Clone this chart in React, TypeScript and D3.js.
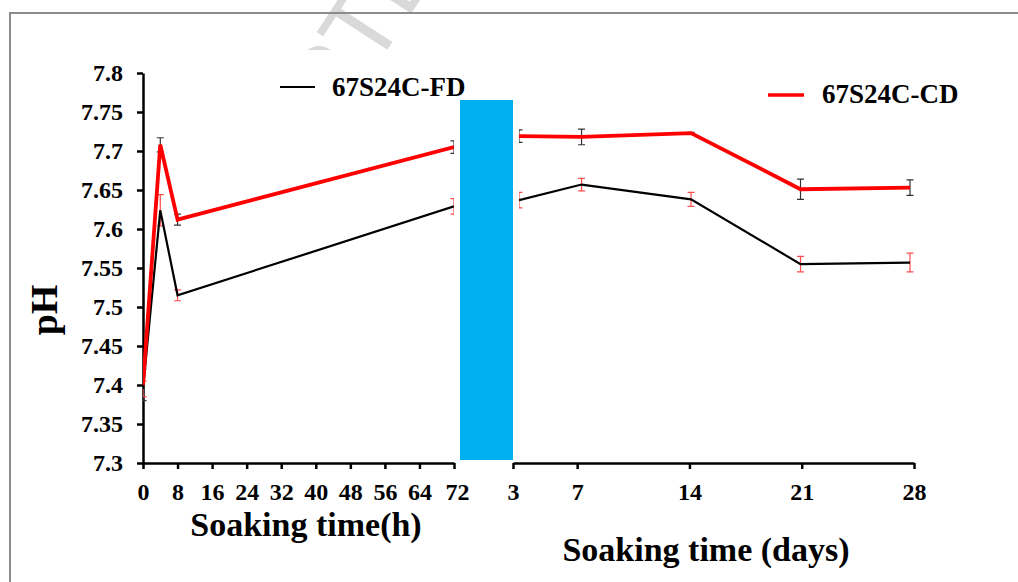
import React, { useEffect, useRef } from 'react'
import * as d3 from 'd3'

// soaking in hours (left panel)
const hours = [0, 4, 8, 72]
const cdHours = [7.4, 7.708, 7.612, 7.705]
const cdHoursErr = [0.02, 0.009, 0.007, 0.008]
const fdHours = [7.395, 7.624, 7.515, 7.629]
const fdHoursErr = [0.01, 0.02, 0.007, 0.01]

// soaking in days (right panel)
const days = [3, 7, 14, 21, 28]
const cdDays = [7.719, 7.718, 7.723, 7.651, 7.653]
const cdDaysErr = [0.008, 0.01, 0.001, 0.013, 0.01]
const fdDays = [7.637, 7.657, 7.638, 7.555, 7.557]
const fdDaysErr = [0.01, 0.008, 0.009, 0.01, 0.012]

const hourTicks = [0, 8, 16, 24, 32, 40, 48, 56, 64, 72]
const dayTicks = [3, 7, 14, 21, 28]
const yTicks = [7.3, 7.35, 7.4, 7.45, 7.5, 7.55, 7.6, 7.65, 7.7, 7.75, 7.8]

const FONT = "'Times New Roman', 'Liberation Serif', serif"
const RED = '#ff0000'

export default function App() {
  const ref = useRef<SVGSVGElement>(null)

  useEffect(() => {
    const svg = d3.select(ref.current)
    svg.selectAll('*').remove()

    const y = d3.scaleLinear().domain([7.3, 7.8]).range([463, 73])
    const xH = d3.scaleLinear().domain([0, 72]).range([143, 454])
    const xDaxis = d3.scaleLinear().domain([3, 28]).range([513, 914])
    const xD = d3.scaleLinear().domain([3, 28]).range([519, 910])

    const defs = svg.append('defs')
    defs.append('clipPath').attr('id', 'wm').append('rect')
      .attr('x', 0).attr('y', 0).attr('width', 1018).attr('height', 50)
    defs.append('clipPath').attr('id', 'clipH').append('rect')
      .attr('x', xH(0)).attr('y', 0).attr('width', xH(72) - xH(0)).attr('height', 582)
    defs.append('clipPath').attr('id', 'clipD').append('rect')
      .attr('x', xD(3)).attr('y', 0).attr('width', 500).attr('height', 582)

    // watermark, only the top strip shows
    svg.append('g').attr('clip-path', 'url(#wm)')
      .append('text')
      .attr('transform', 'translate(390,46) rotate(-57)')
      .attr('text-anchor', 'middle')
      .attr('font-family', "'Liberation Sans', Arial, sans-serif")
      .attr('font-size', 100)
      .attr('fill', '#d9d9d9')
      .text('PTE')

    // frame
    svg.append('path')
      .attr('d', 'M10,582V13H1018')
      .attr('fill', 'none')
      .attr('stroke', '#8c8c8c')
      .attr('stroke-width', 2)

    // y axis
    const yAxis = svg.append('g')
      .attr('transform', `translate(${xH(0)},0)`)
      .call(d3.axisLeft(y).tickValues(yTicks).tickSize(6).tickSizeOuter(0).tickPadding(14)
        .tickFormat(d => String(+(+d).toFixed(2))))
    // x axes
    const xAxisH = svg.append('g')
      .attr('transform', `translate(0,${y(7.3)})`)
      .call(d3.axisBottom(xH).tickValues(hourTicks).tickSize(6).tickSizeOuter(0).tickPadding(14))
    const xAxisD = svg.append('g')
      .attr('transform', `translate(0,${y(7.3)})`)
      .call(d3.axisBottom(xDaxis).tickValues(dayTicks).tickSize(6).tickSizeOuter(0).tickPadding(14))

    ;[yAxis, xAxisH, xAxisD].forEach(g => {
      g.select('.domain').attr('stroke', '#000').attr('stroke-width', 2.5)
      g.selectAll('.tick line').attr('stroke', '#000').attr('stroke-width', 2.5)
      g.selectAll('.tick text')
        .attr('font-family', FONT)
        .attr('font-weight', 'bold')
        .attr('font-size', 24)
        .attr('fill', '#000')
    })
    xAxisH.selectAll('.tick:last-of-type text').attr('dx', 3)

    const drawPanel = (xs: number[], x: (v: number) => number, cd: number[], cdErr: number[],
      fd: number[], fdErr: number[], clip: string) => {
      const g = svg.append('g').attr('clip-path', `url(#${clip})`)
      const cap = 3.5
      const bars = (vals: number[], errs: number[], col: string) => {
        xs.forEach((xv, i) => {
          const px = x(xv)
          const t = y(vals[i] + errs[i])
          const b = y(vals[i] - errs[i])
          g.append('path')
            .attr('d', `M${px},${t}V${b}M${px - cap},${t}H${px + cap}M${px - cap},${b}H${px + cap}`)
            .attr('stroke', col)
            .attr('stroke-width', 1.2)
            .attr('fill', 'none')
        })
      }
      // error bars swap colours with their lines, as in the original
      bars(cd, cdErr, '#333')
      bars(fd, fdErr, '#ff4d4d')
      const line = d3.line<number>().x((_, i) => x(xs[i])).y(d => y(d))
      g.append('path').attr('d', line(fd)).attr('fill', 'none')
        .attr('stroke', '#000').attr('stroke-width', 2.2)
      g.append('path').attr('d', line(cd)).attr('fill', 'none')
        .attr('stroke', RED).attr('stroke-width', 3.8)
    }
    drawPanel(hours, xH, cdHours, cdHoursErr, fdHours, fdHoursErr, 'clipH')
    drawPanel(days, xD, cdDays, cdDaysErr, fdDays, fdDaysErr, 'clipD')

    // blue separator between the two time scales
    svg.append('rect')
      .attr('x', 460).attr('y', 100)
      .attr('width', 53).attr('height', 360)
      .attr('fill', '#00b0f0')

    // legend
    svg.append('line').attr('x1', 280).attr('x2', 315).attr('y1', 87).attr('y2', 87)
      .attr('stroke', '#000').attr('stroke-width', 2)
    svg.append('text').attr('x', 332).attr('y', 96)
      .attr('font-family', FONT).attr('font-weight', 'bold').attr('font-size', 27)
      .text('67S24C-FD')
    svg.append('line').attr('x1', 768).attr('x2', 804).attr('y1', 95).attr('y2', 95)
      .attr('stroke', RED).attr('stroke-width', 3.5)
    svg.append('text').attr('x', 822).attr('y', 103)
      .attr('font-family', FONT).attr('font-weight', 'bold').attr('font-size', 27)
      .text('67S24C-CD')

    // axis titles
    svg.append('text').attr('x', 306).attr('y', 536)
      .attr('text-anchor', 'middle')
      .attr('font-family', FONT).attr('font-weight', 'bold').attr('font-size', 34)
      .text('Soaking time(h)')
    svg.append('text').attr('x', 706).attr('y', 561)
      .attr('text-anchor', 'middle')
      .attr('font-family', FONT).attr('font-weight', 'bold').attr('font-size', 34)
      .text('Soaking time (days)')
    svg.append('text')
      .attr('transform', 'translate(57,310) rotate(-90)')
      .attr('text-anchor', 'middle')
      .attr('font-family', FONT).attr('font-weight', 'bold').attr('font-size', 38)
      .text('pH')
  }, [])

  return (
    <svg ref={ref} width={1018} height={582}
      style={{ position: 'absolute', left: 0, top: 0, background: '#fff' }} />
  )
}
